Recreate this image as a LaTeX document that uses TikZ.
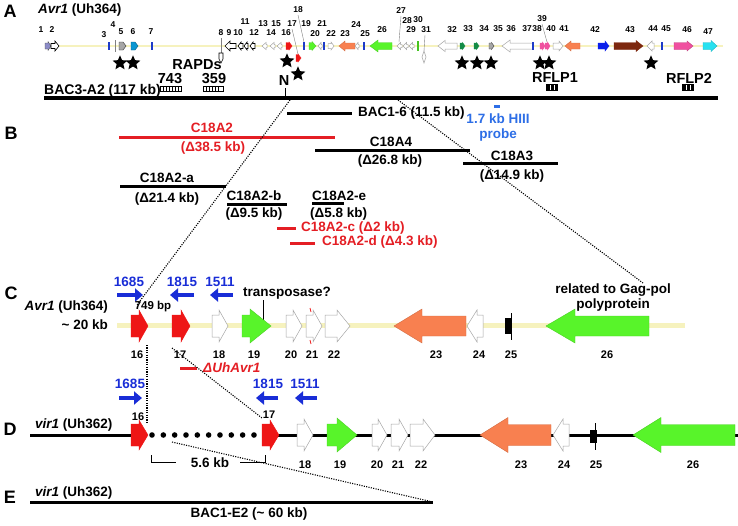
\documentclass[tikz,border=0pt]{standalone}
\usepackage{fontspec}
\setmainfont{Liberation Sans}
\usetikzlibrary{shapes.geometric,arrows.meta}
\definecolor{trk}{RGB}{246,242,190}
\definecolor{gred}{RGB}{238,22,22}
\definecolor{ggreen}{RGB}{88,244,42}
\definecolor{gsalmon}{RGB}{248,128,80}
\definecolor{pblue}{RGB}{25,45,215}
\definecolor{prblue}{RGB}{45,110,230}
\definecolor{tred}{RGB}{228,30,36}
\definecolor{dgreen}{RGB}{20,140,70}
\definecolor{gbrown}{RGB}{125,40,15}
\definecolor{gpink}{RGB}{240,80,160}
\definecolor{gcyan}{RGB}{40,225,240}
\definecolor{gbar}{RGB}{30,60,200}
\definecolor{gpurple}{RGB}{140,140,200}
\definecolor{gcyantwo}{RGB}{10,150,210}
\definecolor{gblue}{RGB}{10,30,235}
\newcommand{\gR}[7]{\filldraw[#7] ({#1},{#3-#5}) -- ({#2-#4},{#3-#5}) -- ({#2-#4},{#3-#6}) -- ({#2},{#3}) -- ({#2-#4},{#3+#6}) -- ({#2-#4},{#3+#5}) -- ({#1},{#3+#5}) -- cycle;}
\newcommand{\gL}[7]{\filldraw[#7] ({#2},{#3-#5}) -- ({#1+#4},{#3-#5}) -- ({#1+#4},{#3-#6}) -- ({#1},{#3}) -- ({#1+#4},{#3+#6}) -- ({#1+#4},{#3+#5}) -- ({#2},{#3+#5}) -- cycle;}
\newcommand{\gbarA}[1]{\draw[gbar, line width=1.5] (#1,42) -- (#1,50);}
\tikzset{
 plab/.style={font=\fontsize{18}{20}\selectfont\bfseries, inner sep=0},
 lab/.style={font=\fontsize{13.5}{15}\selectfont\bfseries, inner sep=0},
 labA/.style={font=\fontsize{14.5}{16}\selectfont\bfseries, inner sep=0},
 gn/.style={font=\fontsize{8.5}{9}\selectfont\bfseries, inner sep=0},
 gnC/.style={font=\fontsize{11}{12}\selectfont\bfseries, inner sep=0},
 wg/.style={fill=white, draw=gray!70, line width=0.5},
 wk/.style={fill=white, draw=black, line width=0.6},
 rg/.style={fill=gred, draw=gred},
 grn/.style={fill=ggreen, draw=ggreen!85!black, line width=0.4},
 sal/.style={fill=gsalmon, draw=gsalmon!85!black, line width=0.4},
 dots/.style={line width=1.1, dash pattern=on 1.1pt off 1.3pt},
 bar/.style={line width=3},
 prim/.style={pblue, line width=3.5, -{Triangle[length=8pt,width=13pt]}},
 lead/.style={gray, line width=0.4},
 str/.style={star, star points=5, star point ratio=2.2, fill=black, inner sep=0, minimum size=15.5pt},
}
\begin{document}
\begin{tikzpicture}[x=1pt,y=-1pt]
\useasboundingbox (0,0) rectangle (738,525);
% ================= Panel A =================
\node[plab] (pA) at (10,11) {A};
\node[lab, anchor=west] (tA) at (38,10) {\textit{Avr1} (Uh364)};
\draw[trk, line width=2.2] (45,46) -- (723,46);
\gR{45}{51}{46}{3}{3}{4.5}{fill=gpurple,draw=gray!60!black,line width=0.4}
\gR{51}{59}{46}{4}{2.5}{5}{wk}
\gbarA{109}
\draw[gray, line width=0.6] (115,40) -- (115,52);
\gR{119}{126}{46}{3}{4}{4}{fill=gray!70,draw=gray!40!black,line width=0.4}
\gR{131}{138}{46}{3}{4}{4}{fill=gcyantwo,draw=gcyantwo!60!black,line width=0.4}
\gbarA{152}
\draw[lead] (221,38) -- (221,53);
\draw[wk] (219,53) -- (223,53) -- (223,59) -- (221,63) -- (219,59) -- cycle;
\gL{225}{236}{46}{5}{2.5}{5}{wk}
\gL{238}{243}{46}{3}{2.5}{4}{wk}
\gL{244}{248}{46}{3}{2.5}{4}{wk}
\gL{250}{255}{46}{3}{2.5}{4}{wk}
\gL{262}{267}{46}{4}{1.5}{3.5}{wg}
\gL{270}{275}{46}{4}{1.5}{3.5}{wg}
\gL{277}{282}{46}{4}{1.5}{3.5}{wg}
\gR{286}{292}{46}{3}{3.5}{4}{rg}
\draw[lead] (292,29) -- (298,54);
\gR{296}{301}{58}{3}{3.5}{4}{rg}
\draw[lead] (298,15) -- (304,42);
\gbarA{304}
\gR{309}{316}{46}{4}{3.5}{4.5}{grn}
\gL{318}{322}{46}{3}{1.5}{3.5}{wg}
\gbarA{324}
\gR{328}{334}{46}{3}{2.5}{4}{wg}
\gL{339}{355}{46}{6}{3}{5}{sal}
\gL{355}{359}{46}{3}{1.5}{3.5}{wg}
\gbarA{364}
\gL{370}{392}{46}{8}{3.5}{6}{grn}
\draw[lead] (401,16) -- (399,42);
\gL{397}{402}{46}{3.5}{1.5}{3.5}{wg}
\gL{403}{408}{46}{3.5}{1.5}{3.5}{wg}
\gL{409}{414}{46}{3.5}{1.5}{3.5}{wg}
\draw[ggreen!80!black, line width=2.5] (418,41) -- (418,51);
\draw[lead] (425,35) -- (424,51);
\draw[wg] (424,51) -- (426,57) -- (424,63) -- (422,57) -- cycle;
\gL{438}{457}{46}{7}{3}{5.5}{wg}
\gR{460}{465}{46}{2.5}{3}{3.5}{fill=dgreen,draw=dgreen}
\gR{474}{479}{46}{2.5}{3}{3.5}{fill=dgreen,draw=dgreen}
\gR{489}{494}{46}{2.5}{3}{3.5}{fill=gray!70,draw=gray!50!black,line width=0.4}
\gL{502}{533}{46}{8}{3}{6}{wg}
\gbarA{533}
\gR{540}{545}{46}{2.5}{3}{4}{fill=gpink,draw=gpink}
\draw[lead] (542,24) -- (547,42);
\gR{545}{550}{46}{2.5}{3}{4}{fill=gpink,draw=gpink}
\gR{553}{563}{46}{4}{3}{5}{wg}
\gL{565}{580}{46}{6}{3}{5}{sal}
\gR{598}{609}{46}{4}{3}{5}{fill=gblue,draw=gblue}
\gR{614}{643}{46}{7}{3.5}{5.5}{fill=gbrown,draw=gbrown}
\gL{647}{654}{46}{5}{3}{5}{wg}
\gbarA{662}
\gR{674}{693}{46}{6}{3.5}{5}{fill=gpink,draw=gpink!80!black,line width=0.4}
\gR{703}{717}{46}{6}{3.5}{5.5}{fill=gcyan,draw=gcyan!80!black,line width=0.4}
\foreach \x/\y/\t in {41/30/1,52/30/2,104/35/3,113/25/4,121/32/5,133/32/6,151/32/7,221/33/8,229/33/9,238/33/10,245/22/11,254/33/12,263/24/13,271/33/14,276/24/15,286/33/16,292/24/17,298/10/18,306/24/19,315/34/20,322/24/21,331/34/22,345/34/23,356/25/24,365/34/25,382/30/26,401/11/27,407/21/28,411/30/29,418/20/30,426/30/31,452/30/32,468/29/33,484/29/34,498/29/35,511/29/36,527/29/37,537/29/38,542/19/39,551/29/40,564/29/41,595/30/42,630/30/43,653/29/44,666/29/45,687/30/46,708/32/47}
  \node[gn] (ga\t) at (\x,\y) {\t};
\foreach \x/\y [count=\i] in {120/63,133/63,287/61,298/74,462/63,477/63,491/63,540/63,549/63,651/63}
  \node[str] (st\i) at (\x,\y) {};
\node[labA] (rapd) at (197,65) {RAPDs};
\node[labA] (r743) at (170,78.5) {743};
\node[labA] (r359) at (214,78.5) {359};
\draw[line width=0.8] (160,86) rectangle (181,91);
\foreach \k in {163,166,...,178} \draw[line width=0.9] (\k,86) -- (\k,91);
\draw[line width=0.8] (203,86) rectangle (223,91);
\foreach \k in {206,209,...,220} \draw[line width=0.9] (\k,86) -- (\k,91);
\node[labA] (nN) at (284,81) {N};
\node[font=\fontsize{14}{16}\selectfont\bfseries, inner sep=0, anchor=west] (bac3) at (44,90.5) {BAC3-A2 (117 kb)};
\draw[line width=4] (44,98) -- (718,98);
\draw[line width=0.8] (285,88) -- (285,97);
\node[labA] (rf1) at (555,78) {RFLP1};
\fill (546,84) rectangle (558,91);
\draw[white, line width=1] (550,85) -- (550,90) (554,85) -- (554,90);
\node[labA] (rf2) at (689,78) {RFLP2};
\fill (682,84) rectangle (694,91);
\draw[white, line width=1] (686,85) -- (686,90) (690,85) -- (690,90);
% ================= Panel B =================
\node[plab] (pB) at (11,133) {B};
\draw[bar] (287,113) -- (352,113);
\node[lab, anchor=west] (bac16) at (358,113) {BAC1-6 (11.5 kb)};
\draw[prblue, line width=3] (494,106) -- (500,106);
\node[lab, prblue] (pr1) at (498,119) {1.7 kb HIII};
\node[lab, prblue] (pr2) at (498,135) {probe};
\draw[bar, tred] (119,137) -- (335,137);
\node[lab, tred] (c18a2) at (212,128) {C18A2};
\node[lab, tred] (c18a2k) at (213,148) {(Δ38.5 kb)};
\draw[bar] (315,150) -- (470,150);
\node[lab] (c18a4) at (391,142) {C18A4};
\node[lab] (c18a4k) at (390,161) {(Δ26.8 kb)};
\draw[bar] (463,163) -- (558,163);
\node[lab] (c18a3) at (512,156) {C18A3};
\node[lab] (c18a3k) at (512,176) {(Δ14.9 kb)};
\draw[bar] (120,186) -- (226,186);
\node[lab] (c18aa) at (167,178) {C18A2-a};
\node[lab] (c18aak) at (167,199) {(Δ21.4 kb)};
\draw[bar] (227,204) -- (287,204);
\node[lab] (c18ab) at (254,196) {C18A2-b};
\node[lab] (c18abk) at (254,214) {(Δ9.5 kb)};
\draw[bar] (312,203) -- (344,203);
\node[lab, anchor=west] (c18ae) at (312,196) {C18A2-e};
\node[lab, anchor=west] (c18aek) at (310,214) {(Δ5.8 kb)};
\draw[bar, tred] (277,228) -- (296,228);
\node[lab, tred, anchor=west] (c18ac) at (301,228) {C18A2-c (Δ2 kb)};
\draw[bar, tred] (290,243) -- (315,243);
\node[lab, tred, anchor=west] (c18ad) at (322,242) {C18A2-d (Δ4.3 kb)};
% dotted zoom lines
\coordinate (z1) at (290,100); \coordinate (z1e) at (137,305);
\coordinate (z2) at (398,100); \coordinate (z2e) at (643,283);
\draw[dots] (z1) -- (z1e);
\draw[dots] (z2) -- (z2e);
% ================= Panel C =================
\node[plab] (pC) at (11,293) {C};
\node[lab, anchor=east] (avrC) at (108,307) {\textit{Avr1} (Uh364)};
\node[lab, anchor=east] (kbC) at (108,325) {\textasciitilde\ 20 kb};
\draw[trk, line width=5] (117,325) -- (685,325);
\node[lab, pblue] (p1685) at (129,282) {1685};
\node[lab, pblue] (p1815) at (182,282) {1815};
\node[lab, pblue] (p1511) at (220,282) {1511};
\draw[prim] (117,295) -- (143,295);
\draw[prim] (194,295) -- (170,295);
\draw[prim] (233,295) -- (210,295);
\node[lab] (tp) at (287,293) {transposase?};
\draw[line width=0.8] (263,300) -- (263,321);
\node[font=\fontsize{11.5}{12}\selectfont\bfseries, inner sep=0] (bp749) at (153,307) {749 bp};
\gR{131}{148}{326}{9}{11}{16}{rg}
\gR{172}{190}{326}{9}{11}{16}{rg}
\gR{212}{228}{326}{9}{11}{16}{wg}
\gR{242}{271}{326}{21}{11}{17}{grn}
\gR{286}{302}{326}{9}{11}{16}{wg}
\gR{306}{322}{326}{9}{11}{16}{wg}
\draw[gred, line width=0.8] (310,308) -- (311,312) (310,340) -- (311,344);
\gR{325}{350}{326}{13}{11}{16}{wg}
\gL{394}{466}{326}{28}{10}{17}{sal}
\gL{467}{483}{326}{10}{11}{16}{wg}
\fill (505,318) rectangle (511,334);
\draw[line width=0.8] (511,313) -- (511,340);
\gL{546}{649}{326}{29}{10}{17}{grn}
\node[lab] (gag1) at (613,290) {related to Gag-pol};
\node[lab] (gag2) at (613,305) {polyprotein};
\foreach \x/\t in {137/16,180/17,219/18,254/19,291/20,312/21,334/22,436/23,479/24,511/25,607/26}
  \node[gnC] (gc\t) at (\x,355) {\t};
\draw[bar, tred] (180,368) -- (197,368);
\node[lab, tred, anchor=west] (duh) at (203,368) {\textit{ΔUhAvr1}};
% C -> D dotted
\coordinate (z3) at (147,345); \coordinate (z3e) at (147,422);
\coordinate (z4) at (172,348); \coordinate (z4e) at (262,418);
\draw[dots] (z3) -- (z3e);
\draw[dots] (z4) -- (z4e);
% ================= Panel D =================
\node[plab] (pD) at (10,429) {D};
\node[lab, anchor=west] (virD) at (35,425) {\textit{vir1} (Uh362)};
\draw[bar] (30,435) -- (131,435);
\draw[bar] (275,435) -- (738,435);
\node[lab, pblue] (q1685) at (130,384) {1685};
\node[lab, pblue] (q1815) at (268,384) {1815};
\node[lab, pblue] (q1511) at (305,384) {1511};
\draw[prim] (119,398) -- (142,398);
\draw[prim] (278,398) -- (256,398);
\draw[prim] (317,398) -- (295,398);
\gR{131}{148}{435}{9}{11}{15}{rg}
\foreach \k in {0,...,9} \fill ({152+11.33*\k},435) circle (2.8);
\gR{262}{279}{435}{9}{11}{15}{rg}
\node[gnC] (gd16) at (138,417) {16};
\node[gnC] (gd17) at (269,415) {17};
\gR{297}{313}{435}{9}{11}{16}{wg}
\gR{327}{357}{435}{20}{11}{17}{grn}
\gR{372}{387}{435}{9}{11}{16}{wg}
\gR{391}{408}{435}{9}{11}{16}{wg}
\gR{410}{435}{435}{12}{11}{16}{wg}
\gL{480}{551}{435}{28}{10.5}{17.5}{sal}
\gL{553}{569}{435}{10}{11}{16}{wg}
\fill (590,430) rectangle (597,443);
\draw[line width=0.9] (595,423) -- (595,450);
\gL{633}{735}{435}{28}{10.5}{17.5}{grn}
\foreach \x/\t in {305/18,340/19,377/20,398/21,421/22,521/23,564/24,596/25,693/26}
  \node[gnC] (gd\t) at (\x,465) {\t};
\draw[line width=0.8] (151,455) -- (151,462) -- (176,462);
\draw[line width=0.8] (240,462) -- (265,462) -- (265,455);
\node[lab] (kb56) at (210,463) {5.6 kb};
% D -> E dotted
\coordinate (z5) at (172,442); \coordinate (z5e) at (433,502);
\draw[dots] (z5) -- (z5e);
% ================= Panel E =================
\node[plab] (pE) at (10,497) {E};
\node[lab, anchor=west] (virE) at (35,493) {\textit{vir1} (Uh362)};
\draw[bar] (30,502) -- (433,502);
\node[lab] (bace2) at (249,514) {BAC1-E2 (\textasciitilde\ 60 kb)};
\end{tikzpicture}
\end{document}
